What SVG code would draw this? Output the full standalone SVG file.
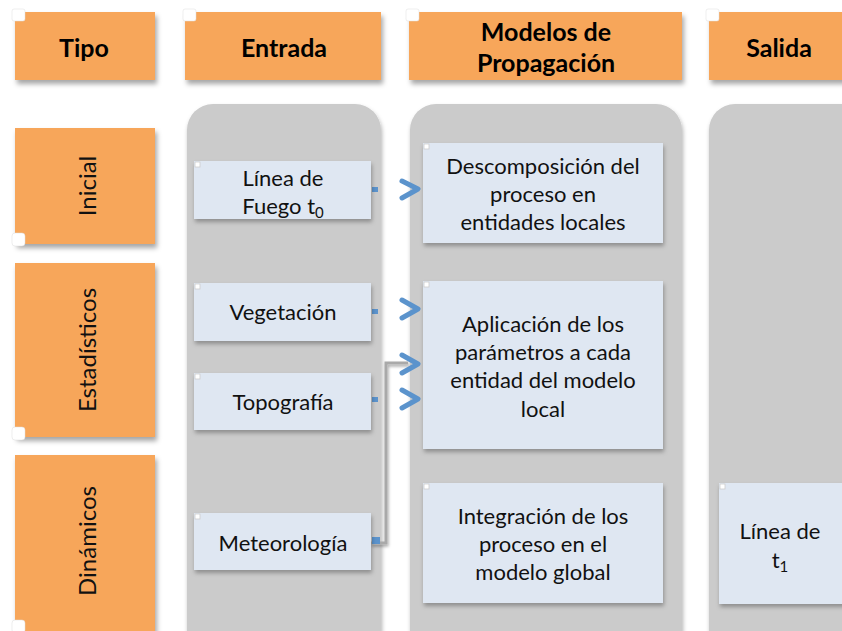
<svg xmlns="http://www.w3.org/2000/svg" width="842" height="631" viewBox="0 0 842 631">
<defs>
<filter id="sh" x="-10%" y="-10%" width="130%" height="130%">
<feDropShadow dx="2" dy="4" stdDeviation="2.5" flood-color="#000" flood-opacity="0.35"/>
</filter>
<filter id="shs" x="-10%" y="-10%" width="130%" height="130%">
<feDropShadow dx="1" dy="3" stdDeviation="2" flood-color="#000" flood-opacity="0.3"/>
</filter>
<filter id="lsh" x="-20%" y="-20%" width="140%" height="140%">
<feDropShadow dx="1" dy="2" stdDeviation="1.5" flood-color="#000" flood-opacity="0.35"/>
</filter>
</defs>
<style>
.hdr{fill:#f7a65a;filter:url(#sh)}
.col{fill:#cbcbcb;filter:url(#shs)}
.box{fill:#dfe7f2;filter:url(#shs)}
.ht{font-family:Lato,"Open Sans",sans-serif;font-weight:bold;font-size:25px;fill:#000;text-anchor:middle}
.t{font-family:Lato,"Open Sans",sans-serif;font-size:22px;fill:#111;text-anchor:middle}
.vt{font-family:Lato,"Open Sans",sans-serif;font-size:24px;fill:#111;text-anchor:middle}
.hnd{fill:#fff;stroke:#ddd;stroke-width:0.5}
.sh{fill:#fff;stroke:#ccc;stroke-width:0.8}
.ln{fill:none;stroke:#a9a9a9;stroke-width:3;filter:url(#lsh)}
.chev{fill:none;stroke:#5b93cc;stroke-width:5;stroke-linecap:round;stroke-linejoin:round}
.dot{fill:#5b93cc}
</style>
<rect x="0" y="0" width="842" height="631" fill="#fff"/>

<g id="columns">
<rect class="col" x="187" y="104" width="194" height="560" rx="26"/>
<rect class="col" x="410" y="104" width="272" height="560" rx="26"/>
<rect class="col" x="709" y="104" width="160" height="560" rx="26"/>
</g>

<g id="h-tipo">
<rect class="hdr" x="15" y="12" width="140" height="68"/>
<rect class="hnd" x="12" y="9" width="13" height="12" rx="2"/>
<text class="ht" x="84" y="57">Tipo</text>
</g>
<g id="h-entrada">
<rect class="hdr" x="185" y="12" width="196" height="68"/>
<rect class="hnd" x="183" y="9" width="13" height="12" rx="2"/>
<text class="ht" x="284" y="57">Entrada</text>
</g>
<g id="h-modelos">
<rect class="hdr" x="409" y="12" width="273" height="68"/>
<rect class="hnd" x="406" y="9" width="13" height="12" rx="2"/>
<text class="ht" x="546" y="41">Modelos de</text>
<text class="ht" x="546" y="72">Propagación</text>
</g>
<g id="h-salida">
<rect class="hdr" x="709" y="12" width="150" height="68"/>
<rect class="hnd" x="706" y="9" width="13" height="12" rx="2"/>
<text class="ht" x="779" y="57">Salida</text>
</g>

<g id="t-inicial">
<rect class="hdr" x="15" y="128" width="140" height="116"/>
<rect class="hnd" x="12" y="233" width="13" height="13" rx="3"/>
<text class="vt" transform="translate(96,186) rotate(-90)">Inicial</text>
</g>
<g id="t-estadisticos">
<rect class="hdr" x="15" y="263" width="140" height="174"/>
<rect class="hnd" x="12" y="427" width="13" height="13" rx="3"/>
<text class="vt" transform="translate(96,350) rotate(-90)">Estadísticos</text>
</g>
<g id="t-dinamicos">
<rect class="hdr" x="15" y="455" width="140" height="190"/>
<rect class="hnd" x="12" y="620" width="13" height="13" rx="3"/>
<text class="vt" transform="translate(96,541) rotate(-90)">Dinámicos</text>
</g>

<g id="connectors">
<path class="ln" d="M371 190 H408"/>
<path class="ln" d="M371 312 H408"/>
<path class="ln" d="M371 400 H408"/>
<path class="ln" d="M371 543 H386 V363 H408"/>
<rect class="dot" x="372" y="187" width="6" height="5"/>
<rect class="dot" x="372" y="309" width="6" height="5"/>
<rect class="dot" x="372" y="397" width="6" height="5"/>
<rect class="dot" x="372" y="537" width="8" height="7"/>
<path class="chev" d="M402 181 L418 189 L402 198"/>
<path class="chev" d="M402 300 L418 309 L402 318"/>
<path class="chev" d="M402 355 L418 364 L402 373"/>
<path class="chev" d="M402 390 L418 399 L402 408"/>
</g>

<g id="e-linea">
<rect class="box" x="194" y="161" width="177" height="58"/>
<rect class="sh" x="195" y="162" width="5" height="5"/>
<text class="t" x="283" y="186">Línea de</text>
<text class="t" x="283" y="214">Fuego t<tspan font-size="15" dy="4">0</tspan></text>
</g>
<g id="e-vegetacion">
<rect class="box" x="194" y="283" width="177" height="58"/>
<rect class="sh" x="195" y="284" width="5" height="5"/>
<text class="t" x="283" y="320">Vegetación</text>
</g>
<g id="e-topografia">
<rect class="box" x="194" y="373" width="177" height="57"/>
<rect class="sh" x="195" y="374" width="5" height="5"/>
<text class="t" x="283" y="410">Topografía</text>
</g>
<g id="e-meteorologia">
<rect class="box" x="194" y="513" width="177" height="57"/>
<rect class="sh" x="195" y="514" width="5" height="5"/>
<text class="t" x="283" y="551">Meteorología</text>
</g>

<g id="m-descomposicion">
<rect class="box" x="423" y="143" width="240" height="100"/>
<rect class="sh" x="424" y="144" width="5" height="5"/>
<text class="t" x="543" y="174">Descomposición del</text>
<text class="t" x="543" y="202">proceso en</text>
<text class="t" x="543" y="230">entidades locales</text>
</g>
<g id="m-aplicacion">
<rect class="box" x="423" y="281" width="240" height="168"/>
<rect class="sh" x="424" y="282" width="5" height="5"/>
<text class="t" x="543" y="332">Aplicación de los</text>
<text class="t" x="543" y="360">parámetros a cada</text>
<text class="t" x="543" y="388">entidad del modelo</text>
<text class="t" x="543" y="417">local</text>
</g>
<g id="m-integracion">
<rect class="box" x="423" y="483" width="240" height="120"/>
<rect class="sh" x="424" y="484" width="5" height="5"/>
<text class="t" x="543" y="524">Integración de los</text>
<text class="t" x="543" y="552">proceso en el</text>
<text class="t" x="543" y="580">modelo global</text>
</g>

<g id="s-linea">
<rect class="box" x="719" y="483" width="140" height="121"/>
<rect class="sh" x="720" y="484" width="5" height="5"/>
<text class="t" x="780" y="539">Línea de</text>
<text class="t" x="780" y="568">t<tspan font-size="15" dy="4">1</tspan></text>
</g>
</svg>
